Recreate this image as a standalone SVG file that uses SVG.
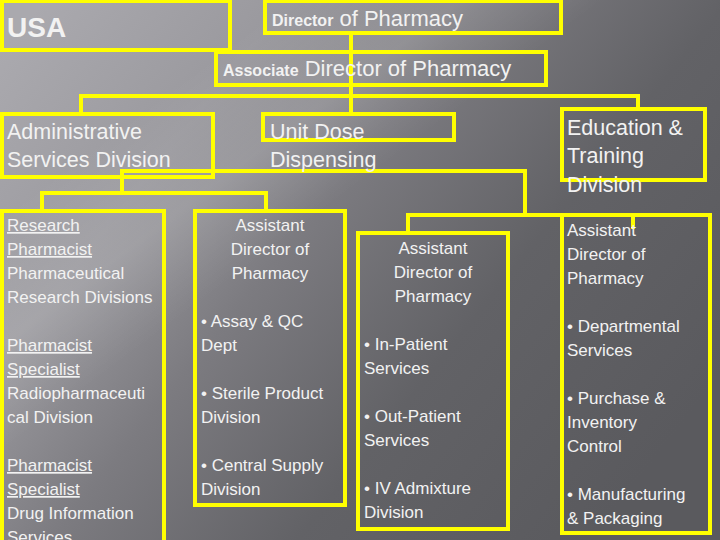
<svg xmlns="http://www.w3.org/2000/svg" width="720" height="540" viewBox="0 0 720 540">
<defs>
<linearGradient id="bg" x1="0" y1="0.1" x2="1" y2="0.7">
<stop offset="0" stop-color="#aaa9ae"/>
<stop offset="0.25" stop-color="#9a999e"/>
<stop offset="0.45" stop-color="#7c7b80"/>
<stop offset="0.7" stop-color="#626266"/>
<stop offset="1" stop-color="#5a5a5e"/>
</linearGradient>
<linearGradient id="sheen" x1="0" y1="0" x2="1" y2="1">
<stop offset="0.2" stop-color="#ffffff" stop-opacity="0"/>
<stop offset="0.32" stop-color="#ffffff" stop-opacity="0.12"/>
<stop offset="0.42" stop-color="#ffffff" stop-opacity="0"/>
</linearGradient>
<style>
.box{fill:none;stroke:#ffff00;stroke-width:4}
.ln{fill:none;stroke:#ffff00;stroke-width:4;stroke-linecap:square}
text{font-family:"Liberation Sans",Arial,sans-serif;fill:#f2f2f2}
.big{font-size:21.5px}
.sm{font-size:17px}
.b{font-weight:bold}
.u{text-decoration:underline}
.mid{text-anchor:middle}
</style>
</defs>
<rect x="0" y="0" width="720" height="540" fill="url(#bg)"/>
<rect x="0" y="0" width="720" height="540" fill="url(#sheen)"/>

<g id="connectors">
<path class="ln" d="M351 34V113"/>
<path class="ln" d="M81 96H638"/>
<path class="ln" d="M81 96V113"/>
<path class="ln" d="M638 96V108"/>
<path class="ln" d="M122 171H525"/>
<path class="ln" d="M122 171V193"/>
<path class="ln" d="M42 193H266"/>
<path class="ln" d="M42 193V210"/>
<path class="ln" d="M266 193V210"/>
<path class="ln" d="M525 171V215"/>
<path class="ln" d="M408 215H633"/>
<path class="ln" d="M408 215V232"/>
<path class="ln" d="M633 215V227"/>
</g>

<g id="usa">
<rect class="box" x="2" y="1" width="228" height="49"/>
<text x="7" y="37" class="b" font-size="28">USA</text>
</g>

<g id="director">
<rect class="box" x="265" y="1" width="296" height="32"/>
<text x="272" y="26"><tspan class="b" font-size="16">Director</tspan><tspan font-size="22"> of Pharmacy</tspan></text>
</g>

<g id="associate">
<rect class="box" x="216" y="52" width="330" height="33"/>
<text x="223" y="76"><tspan class="b" font-size="16">Associate</tspan><tspan font-size="22"> Director of Pharmacy</tspan></text>
</g>

<g id="admin">
<rect class="box" x="2" y="114" width="211" height="63"/>
<text class="big" x="7" y="139">Administrative</text>
<text class="big" x="7" y="167">Services Division</text>
</g>

<g id="unitdose">
<rect class="box" x="263" y="114" width="191" height="26"/>
<text class="big" x="270" y="139">Unit Dose</text>
<text class="big" x="270" y="167">Dispensing</text>
</g>

<g id="education">
<rect class="box" x="562" y="109" width="143" height="71"/>
<text class="big" x="567" y="135">Education &amp;</text>
<text class="big" x="567" y="163">Training</text>
<text class="big" x="567" y="192">Division</text>
</g>

<g id="research">
<rect class="box" x="2" y="211" width="162" height="340"/>
<text class="sm" x="7" y="231"><tspan class="u">Research</tspan></text>
<text class="sm" x="7" y="255"><tspan class="u">Pharmacist</tspan></text>
<text class="sm" x="7" y="279">Pharmaceutical</text>
<text class="sm" x="7" y="303">Research Divisions</text>
<text class="sm" x="7" y="351"><tspan class="u">Pharmacist</tspan></text>
<text class="sm" x="7" y="375"><tspan class="u">Specialist</tspan></text>
<text class="sm" x="7" y="399">Radiopharmaceuti</text>
<text class="sm" x="7" y="423">cal Division</text>
<text class="sm" x="7" y="471"><tspan class="u">Pharmacist</tspan></text>
<text class="sm" x="7" y="495"><tspan class="u">Specialist</tspan></text>
<text class="sm" x="7" y="519">Drug Information</text>
<text class="sm" x="7" y="543">Services</text>
</g>

<g id="asst1">
<rect class="box" x="195" y="211" width="150" height="294"/>
<text class="sm mid" x="270" y="231">Assistant</text>
<text class="sm mid" x="270" y="255">Director of</text>
<text class="sm mid" x="270" y="279">Pharmacy</text>
<text class="sm" x="201" y="327">• Assay &amp; QC</text>
<text class="sm" x="201" y="351">Dept</text>
<text class="sm" x="201" y="399">• Sterile Product</text>
<text class="sm" x="201" y="423">Division</text>
<text class="sm" x="201" y="471">• Central Supply</text>
<text class="sm" x="201" y="495">Division</text>
</g>

<g id="asst2">
<rect class="box" x="358" y="233" width="150" height="296"/>
<text class="sm mid" x="433" y="254">Assistant</text>
<text class="sm mid" x="433" y="278">Director of</text>
<text class="sm mid" x="433" y="302">Pharmacy</text>
<text class="sm" x="364" y="350">• In-Patient</text>
<text class="sm" x="364" y="374">Services</text>
<text class="sm" x="364" y="422">• Out-Patient</text>
<text class="sm" x="364" y="446">Services</text>
<text class="sm" x="364" y="494">• IV Admixture</text>
<text class="sm" x="364" y="518">Division</text>
</g>

<g id="asst3">
<rect class="box" x="562" y="215" width="148" height="318"/>
<text class="sm" x="567" y="236">Assistant</text>
<text class="sm" x="567" y="260">Director of</text>
<text class="sm" x="567" y="284">Pharmacy</text>
<text class="sm" x="567" y="332">• Departmental</text>
<text class="sm" x="567" y="356">Services</text>
<text class="sm" x="567" y="404">• Purchase &amp;</text>
<text class="sm" x="567" y="428">Inventory</text>
<text class="sm" x="567" y="452">Control</text>
<text class="sm" x="567" y="500">• Manufacturing</text>
<text class="sm" x="567" y="524">&amp; Packaging</text>
</g>
</svg>
